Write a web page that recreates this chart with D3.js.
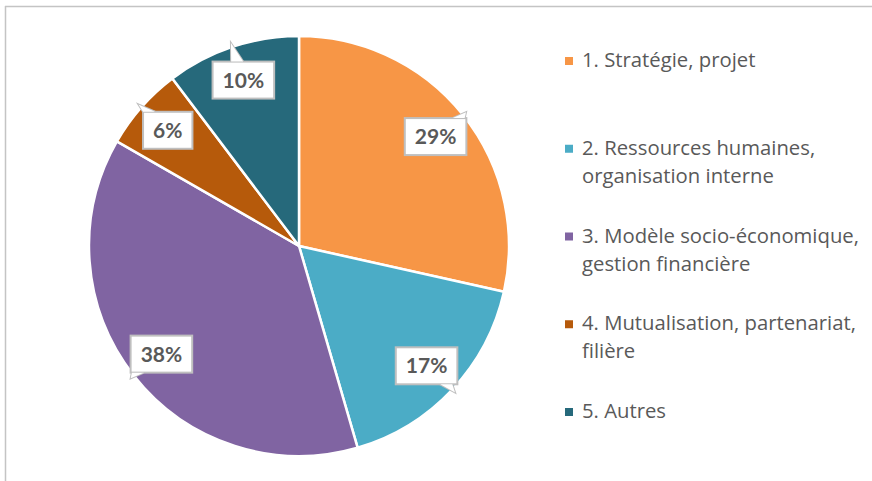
<!DOCTYPE html>
<html>
<head>
<meta charset="utf-8">
<script src="https://cdn.jsdelivr.net/npm/d3@7"></script>
<style>
  body { margin: 0; background: #fff; }
  svg { display: block; }
</style>
</head>
<body>
<svg width="872" height="481"></svg>
<script>
// data (slice sizes estimated from the angles, labels as printed)
var categories = ["1. Stratégie, projet", "2. Ressources humaines,|organisation interne",
                  "3. Modèle socio-économique,|gestion financière", "4. Mutualisation, partenariat,|filière",
                  "5. Autres"];
var values = [28.5, 17.0, 37.8, 6.4, 10.3];
var labels = ["29%", "17%", "38%", "6%", "10%"];
var colors = ["#F79646", "#4BACC6", "#8064A2", "#B65A0B", "#26697B"];

var svg = d3.select("svg");
var cx = 299, cy = 246, R = 210, labelR = 175;

// chart frame (only top and left edges visible)
svg.append("line").attr("x1", 5).attr("y1", 6.5).attr("x2", 872).attr("y2", 6.5)
   .attr("stroke", "#c4c4c4").attr("stroke-width", 1.5);
svg.append("line").attr("x1", 5.5).attr("y1", 6).attr("x2", 5.5).attr("y2", 481)
   .attr("stroke", "#c4c4c4").attr("stroke-width", 1.5);

var pie = d3.pie().sort(null).value(function(d) { return d; });
var arcs = pie(values);
var arc = d3.arc().innerRadius(0).outerRadius(R);
var labelArc = d3.arc().innerRadius(labelR).outerRadius(labelR);

var g = svg.append("g").attr("transform", "translate(" + cx + "," + cy + ")");

g.selectAll("path.slice")
  .data(arcs)
  .enter().append("path")
  .attr("class", "slice")
  .attr("d", arc)
  .attr("fill", function(d, i) { return colors[i]; })
  .attr("stroke", "#fff")
  .attr("stroke-width", 2.5)
  .attr("stroke-linejoin", "round");

// callout labels
var lab = g.selectAll("g.lab").data(arcs).enter().append("g").attr("class", "lab");
lab.each(function(d, i) {
  var el = d3.select(this);
  var c = labelArc.centroid(d);
  var mid = (d.startAngle + d.endAngle) / 2;
  var dx = Math.sin(mid), dy = -Math.cos(mid);

  var t = el.append("text")
    .attr("x", c[0]).attr("y", c[1])
    .attr("text-anchor", "middle")
    .attr("dy", "0.36em")
    .attr("font-family", "Lato, 'Open Sans', sans-serif")
    .attr("font-weight", "bold")
    .attr("font-size", 21)
    .attr("fill", "#595959")
    .text(labels[i]);
  var tw = t.node().getComputedTextLength();
  var w = tw + 20, h = 37;
  var hw = w / 2, hh = h / 2;

  // where the pointer leaves the box
  var tx = Math.abs(dx) > 1e-6 ? hw / Math.abs(dx) : Infinity;
  var ty = Math.abs(dy) > 1e-6 ? hh / Math.abs(dy) : Infinity;
  var base1, base2, s = 6;
  if (ty < tx) {
    var ex = Math.max(-hw + s, Math.min(hw - s, dx * ty));
    var ey = dy > 0 ? hh : -hh;
    base1 = [c[0] + ex - s, c[1] + ey];
    base2 = [c[0] + ex + s, c[1] + ey];
  } else {
    var ey2 = Math.max(-hh + s, Math.min(hh - s, dy * tx));
    var ex2 = dx > 0 ? hw : -hw;
    base1 = [c[0] + ex2, c[1] + ey2 - s];
    base2 = [c[0] + ex2, c[1] + ey2 + s];
  }
  var tip = [c[0] + dx * 39, c[1] + dy * 39];
  var tri = "M" + base1 + "L" + tip + "L" + base2 + "Z";

  el.insert("path", "text").attr("d", tri)
    .attr("fill", "#fff").attr("stroke", "#bfbfbf").attr("stroke-width", 2);
  el.insert("rect", "text")
    .attr("x", c[0] - hw).attr("y", c[1] - hh)
    .attr("width", w).attr("height", h)
    .attr("fill", "#fff").attr("stroke", "#bfbfbf").attr("stroke-width", 2);
  el.insert("path", "text").attr("d", tri).attr("fill", "#fff");
});

// legend
var leg = svg.append("g");
var rowY = d3.scalePoint().domain(d3.range(categories.length)).range([67, 418]);
categories.forEach(function(cat, i) {
  var y = rowY(i);
  leg.append("rect").attr("x", 565).attr("y", y - 10).attr("width", 8).attr("height", 8)
     .attr("fill", colors[i]);
  var txt = leg.append("text")
     .attr("x", 582).attr("y", y)
     .attr("font-family", "'Open Sans', sans-serif")
     .attr("font-size", 20.3)
     .attr("fill", "#595959");
  cat.split("|").forEach(function(line, j) {
    txt.append("tspan").attr("x", 582).attr("y", y + j * 28).text(line);
  });
});
</script>
</body>
</html>
